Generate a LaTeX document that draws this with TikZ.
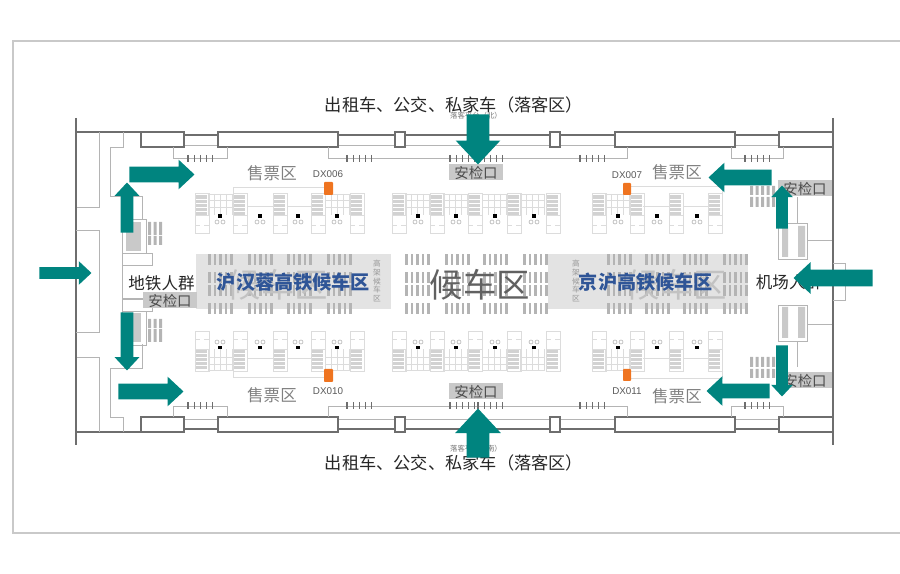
\documentclass[tikz,border=0pt]{standalone}
\usepackage{fontspec}
\setmainfont{Noto Sans CJK SC}
\newfontfamily\dxfont{Liberation Sans}
\usetikzlibrary{shapes,arrows}
\definecolor{wallgray}{HTML}{6E6E6E}
\definecolor{thingray}{HTML}{B4B4B4}
\definecolor{palegray}{HTML}{DCDCDC}
\definecolor{hallgray}{HTML}{E3E3E3}
\definecolor{gatefill}{HTML}{C9C9C9}
\definecolor{stackfill}{HTML}{D2D2D2}
\definecolor{flowteal}{HTML}{00847F}
\definecolor{standorange}{HTML}{EF7420}
\definecolor{labelblue}{HTML}{2F5597}
\tikzset{
  flowarrow/.style n args={3}{single arrow, fill=flowteal, draw=none, inner xsep=0pt,
    inner ysep=#2*0.01cm, anchor=tip, text height=0pt, text depth=0pt,
    minimum height=#1*0.02cm, single arrow head extend=#3*0.02cm,
    single arrow tip angle=86},
  wall/.style={draw=wallgray, line width=0.9pt},
  thin wall/.style={draw=thingray, line width=0.55pt},
  pale/.style={draw=palegray, line width=0.45pt},
  gate/.style={fill=gatefill, draw=none, inner sep=0pt, minimum width=54*0.02cm, minimum height=16*0.02cm,
    text=black!70, font=\fontsize{8.2}{9}\selectfont},
  sale/.style={text=black!50, inner sep=0pt, font=\fontsize{9.4}{10}\selectfont},
  dxlabel/.style={text=black!65, inner sep=0pt, font=\dxfont\fontsize{5.6}{6}\selectfont},
  stand/.style={fill=standorange, draw=none, rounded corners=0.5pt},
  road/.style={text=black!85, inner sep=0pt, font=\fontsize{9.8}{11}\selectfont},
  tiny/.style={text=black!55, inner sep=0pt, font=\fontsize{4.2}{5}\selectfont},
  crowd/.style={text=black!85, inner sep=0pt, font=\fontsize{9.4}{10}\selectfont},
  hall/.style={inner sep=0pt, font=\fontsize{19}{20}\selectfont},
  bluelabel/.style={text=labelblue, inner sep=0pt, font=\bfseries\fontsize{10.9}{12}\selectfont},
  upright/.style={text=black!40, inner sep=0pt, align=center, font=\fontsize{4.4}{4.9}\selectfont},
  stackunit/.pic={
    \fill[stackfill] (0,195) rectangle (12,215);
    \foreach \ly in {199,203,207,211} \draw[white, line width=0.3pt] (0,\ly) -- (12,\ly);
    \draw[pale] (0,193) rectangle (14,215);
    \draw[pale] (0,215) -- (0,233) -- (14,233) -- (14,215);
    \draw[pale] (0,225) -- (5,225) (9,225) -- (14,225);
  },
  dotunit/.pic={
    \fill[black] (-1.7,214.5) rectangle (1.7,218);
    \draw[thingray, line width=0.35pt] (-3,222) circle (2) (3,222) circle (2);
  },
  gridunit/.pic={
    \foreach \lx in {0,6,12,18,24} \draw[pale] (\lx,194) -- (\lx,215);
    \foreach \ly in {194,200,207} \draw[pale] (0,\ly) -- (25,\ly);
  },
  tickset/.pic={
    \foreach \lx in {0,6.2,12.4,18.6,24.8} \draw[wallgray, line width=0.6pt] (\lx,155) -- (\lx,162);
  },
  seatset/.pic={
    \foreach \lx in {0,5.5,11,16.5,22} \fill[thingray] (\lx,0) rectangle +(2.6,11);
  }
}
\begin{document}
\begin{tikzpicture}[x=0.02cm,y=-0.02cm]
    \useasboundingbox (0,0) rectangle (900,574);
    % the outer frame
    \draw[gatefill, line width=1.1pt] (915,41) -- (13,41) -- (13,533) -- (915,533);

    % the two waiting halls
    \fill[hallgray] (196,254) rectangle (391,309);
    \fill[hallgray] (548,254) rectangle (748,309);

    % the seat rows
    \foreach \rowy in {254,272,285,303} {
        \foreach \colx in {208,248,287,327,405,445,483,523,607,645,683,723}
            \pic at (\colx,\rowy) {seatset};
    }

    % the two halves of the building
    \foreach \flip/\base in {1/0,-1/564} {
    \begin{scope}[shift={(0,\base)},yscale=\flip,transform shape]
        % the front with its doors
        \draw[wall] (76,132) -- (141,132);
        \draw[wall] (184,135) -- (218,135) (338,135) -- (395,135) (405,135) -- (550,135)
            (560,135) -- (615,135) (735,135) -- (779,135);
        \draw[thin wall] (184,145) -- (218,145) (338,145) -- (395,145) (405,145) -- (550,145)
            (560,145) -- (615,145) (735,145) -- (779,145);
        \foreach \doorl/\doorr in {141/184,218/338,395/405,550/560,615/735,779/833}
            \draw[wall, fill=white] (\doorl,132) rectangle (\doorr,147);

        % the canopy lines and ticks
        \draw[thin wall] (173,147) -- (173,158) -- (227,158) -- (227,147);
        \draw[thin wall] (328,147) -- (328,158) -- (627,158) -- (627,147);
        \draw[thin wall] (731,147) -- (731,158) -- (783,158) -- (783,147);
        \foreach \tickx in {188,347,450,478,580,745}
            \pic at (\tickx,0) {tickset};

        % the left wing
        \draw[thin wall] (76,207) -- (99,207) -- (99,132);
        \draw[thin wall] (123,132) -- (123,147) -- (110,147) -- (110,196) -- (142,196) -- (142,220);
        \draw[thin wall] (122,219) rectangle (146,253);
        \draw[thin wall] (122,253) -- (122,265) -- (152,265) -- (152,253) -- (146,253);
        \fill[gatefill] (126,222) rectangle (141,251);
        \foreach \seatx in {148,153.5,159}
            \fill[thingray] (\seatx,222) rectangle +(3,13) (\seatx,236) rectangle +(3,9);

        % the right wing
        \draw[thin wall] (797,197) -- (797,223);
        \draw[thin wall] (778,223) rectangle (807,259);
        \draw[thin wall] (807,240) -- (833,240);
        \fill[gatefill] (782,226) rectangle (788,257) (798,226) rectangle (805,257);
        \foreach \seatx in {750,755.5,761,766.5,772}
            \fill[thingray] (\seatx,186) rectangle +(3,9) (\seatx,197) rectangle +(3,10);

        % the ticket counters
        \draw[pale] (233,193) -- (233,187) -- (324,187);
        \draw[pale] (631,186) -- (722,186) -- (722,193);
        \foreach \gridx in {208,325,405,443,482,520,605}
            \pic at (\gridx,0) {gridunit};
        \draw[pale] (247,206) -- (273,206) (287,206) -- (311,206) (643,206) -- (669,206) (683,206) -- (708,206);
        \foreach \unitx in {195,233,273,311,350,392,430,468,507,546,592,630,669,708}
            \pic at (\unitx,0) {stackunit};
        \foreach \dotx in {220,260,298,337,418,456,495,534,618,657,697}
            \pic at (\dotx,0) {dotunit};
        \fill[stand] (324,182) rectangle (333,195);
        \fill[stand] (623,183) rectangle (631,195);
    \end{scope}
    }

    % the walls on both ends
    \draw[wall] (76,118) -- (76,445);
    \draw[wall] (833,118) -- (833,445);
    \draw[thin wall] (76,230) -- (99,230) -- (99,332) -- (76,332);
    \draw[thin wall] (122,265) -- (122,298) -- (145,298);
    \draw[thin wall] (833,263) -- (845,263) -- (845,300) -- (833,300);

    % the security gates
    \node[gate] (gateN) at (476,172.5) {安检口};
    \node[gate] (gateS) at (476,391.5) {安检口};
    \node[gate] (gateW) at (170,300.5) {安检口};
    \node[gate] (gateNE) at (805,188.5) {安检口};
    \node[gate] (gateSE) at (805,380.5) {安检口};

    % the labels
    \node[road] (roadN) at (454,105) {出租车、公交、私家车（落客区）};
    \node[road] (roadS) at (454,463) {出租车、公交、私家车（落客区）};
    \node[tiny] (dropN) at (476,116) {落客平台（北）};
    \node[tiny] (dropS) at (476,449) {落客平台（南）};
    \node[sale] (saleNW) at (272,173) {售票区};
    \node[sale] (saleSW) at (272,395) {售票区};
    \node[sale] (saleNE) at (677,172) {售票区};
    \node[sale] (saleSE) at (677,396) {售票区};
    \node[dxlabel] (dxA) at (328,174) {DX006};
    \node[dxlabel] (dxB) at (627,175) {DX007};
    \node[dxlabel] (dxC) at (328,391) {DX010};
    \node[dxlabel] (dxD) at (627,391) {DX011};
    \node[crowd] (crowdW) at (161.5,283) {地铁人群};
    \node[crowd] (crowdE) at (789,282) {机场人群};
    \node[upright] (upW) at (377,281) {高\\架\\候\\车\\区};
    \node[upright] (upE) at (576,281) {高\\架\\候\\车\\区};
    \node[hall, text=black!62] (hallC) at (480,285) {候车区};
    \node[hall, text=black!24] (hallW) at (278,285) {候车区};
    \node[hall, text=black!24] (hallE) at (677,285) {候车区};
    \node[bluelabel] (blueW) at (293.5,282) {沪汉蓉高铁候车区};
    \node[bluelabel] (blueE) at (646,282) {京沪高铁候车区};

    % the arrows
    \node[flowarrow={52}{11}{6}] (inW) at (92,273) {};
    \node[flowarrow={50}{12}{6}, rotate=90] (upNW) at (127,182) {};
    \node[flowarrow={65}{15}{7}] (rightNW) at (195,174.5) {};
    \node[flowarrow={50}{22}{11}, rotate=-90] (downN) at (478,165) {};
    \node[flowarrow={63}{15}{7}, rotate=180] (leftNE) at (708,177.5) {};
    \node[flowarrow={43}{11}{5}, rotate=90] (upNE) at (782,185) {};
    \node[flowarrow={79}{16}{7.5}, rotate=180] (inE) at (793,278) {};
    \node[flowarrow={58}{12}{6}, rotate=-90] (downSW) at (127,371) {};
    \node[flowarrow={65}{15}{7}] (rightSW) at (184,391.5) {};
    \node[flowarrow={49}{22}{11.5}, rotate=90] (upS) at (478,408) {};
    \node[flowarrow={63}{14}{7.5}, rotate=180] (leftSE) at (706,391) {};
    \node[flowarrow={51}{11}{5}, rotate=-90] (downSE) at (782,397) {};
\end{tikzpicture}
\end{document}
